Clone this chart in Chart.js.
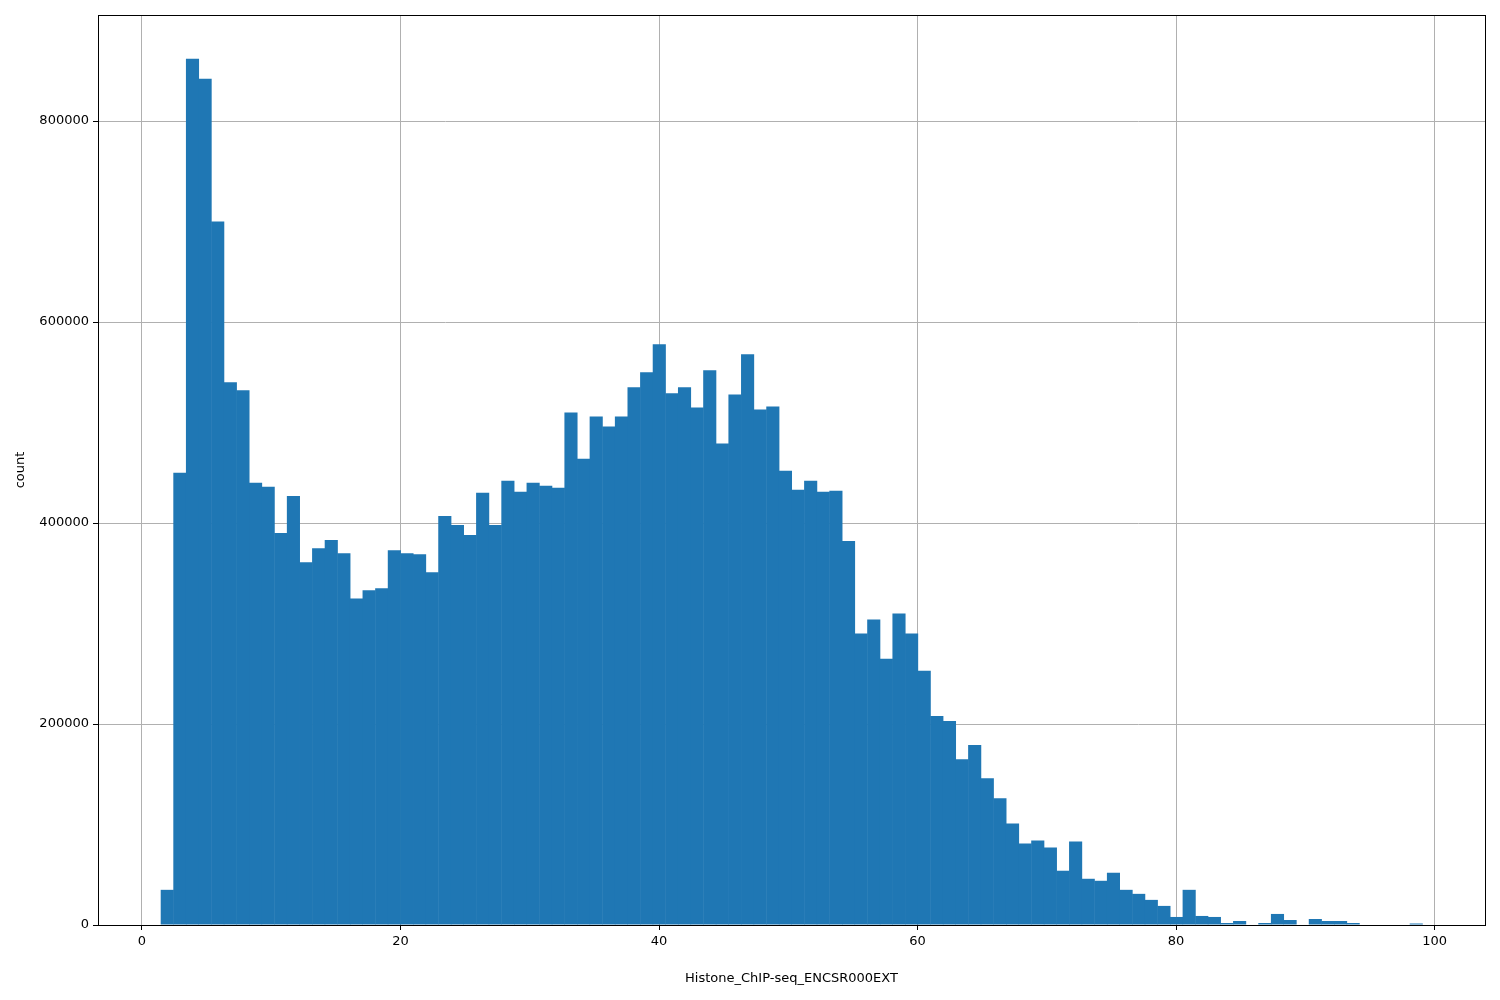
<!DOCTYPE html>
<html><head><meta charset="utf-8">
<script src="https://cdn.jsdelivr.net/npm/chart.js@4/dist/chart.umd.min.js"></script>
<style>html,body{margin:0;padding:0;background:#fff}#wrap{width:1500px;height:1000px}</style>
</head><body><div id="wrap"><canvas id="c" width="1500" height="1000"></canvas></div>
<script>
const binStart = 1.47;
const binWidth = 0.976;
const counts = [35000,450000,862000,842000,700000,540000,532000,440000,436000,390000,
427000,361000,375000,383000,370000,325000,333000,335000,373000,370000,
369000,351000,407000,398000,388000,430000,398000,442000,431000,440000,
437000,435000,510000,464000,506000,496000,506000,535000,550000,578000,
529000,535000,515000,552000,479000,528000,568000,513000,516000,452000,
433000,442000,431000,432000,382000,290000,304000,265000,310000,290000,
253000,208000,203000,165000,179000,146000,126000,101000,81000,84000,
77000,54000,83000,46000,44000,52000,35000,31000,25000,19000,
8000,35000,9000,8000,2000,4000,0,2000,11000,5000,
0,6000,4000,4000,2000,0,0,0,0,1500];
const xTicks = [0,20,40,60,80,100];
const yTicks = [0,200000,400000,600000,800000];
const xLabel = 'Histone_ChIP-seq_ENCSR000EXT';
const yLabel = 'count';

const pts = counts.map((v,i)=>({x: binStart + binWidth*(i+0.5), y: v}));
const font = {family:'DejaVu Sans', size:13};
new Chart(document.getElementById('c'), {
  type:'bar',
  data:{datasets:[{data:pts, backgroundColor:'#1f77b4', borderColor:'#1f77b4', borderWidth:0, barPercentage:1.04, categoryPercentage:1, grouped:false}]},
  options:{
    responsive:false, animation:false,
    layout:{padding:{left:0,right:15,top:15,bottom:0}},
    plugins:{legend:{display:false}, tooltip:{enabled:false}},
    scales:{
      x:{type:'linear', min:-3.4, max:103.9, z:1, offset:false,
        afterBuildTicks:s=>{s.ticks=xTicks.map(v=>({value:v}));},
        afterFit:s=>{s.height=75;},
        grid:{color:'#b0b0b0', lineWidth:1, tickColor:'#000', tickLength:5, drawTicks:true, offset:false},
        border:{color:'#000'},
        ticks:{color:'#000', font, padding:4, maxRotation:0},
        title:{display:true, text:xLabel, color:'#000', font, padding:{top:8,bottom:14}}},
      y:{type:'linear', min:0, max:905500, z:1,
        afterBuildTicks:s=>{s.ticks=yTicks.map(v=>({value:v}));},
        afterFit:s=>{s.width=98;},
        grid:{color:'#b0b0b0', lineWidth:1, tickColor:'#000', tickLength:5},
        border:{color:'#000'},
        ticks:{color:'#000', font, padding:4, callback:v=>String(v)},
        title:{display:true, text:yLabel, color:'#000', font, padding:{top:13,bottom:8}}}
    }
  },
  plugins:[{id:'frame', afterDraw(ch){const a=ch.chartArea,c=ch.ctx;c.save();c.strokeStyle='#000';c.lineWidth=1;c.strokeRect(a.left+0.5,a.top+0.5,a.right-a.left,a.bottom-a.top);c.restore();}}]
});
</script></body></html>
